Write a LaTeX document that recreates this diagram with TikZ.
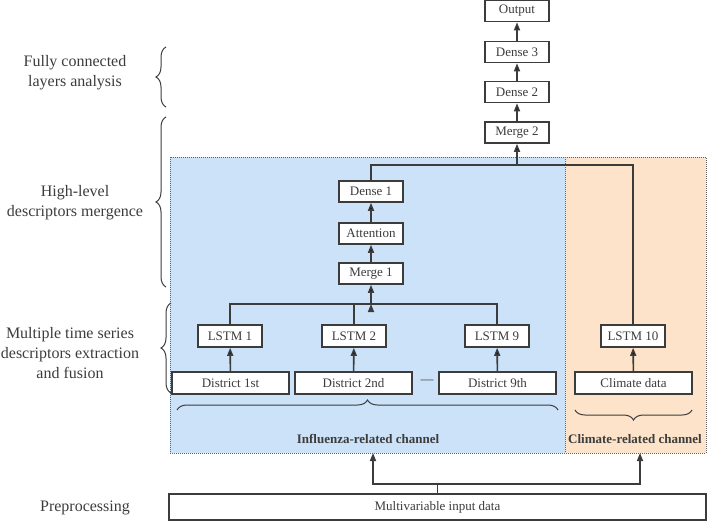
\documentclass[tikz,border=0pt]{standalone}
\usepackage{fontspec}
\setmainfont{Liberation Serif}
\newfontfamily\timesfont{Liberation Serif}
\usetikzlibrary{arrows.meta}
\usetikzlibrary{decorations.pathreplacing}
\definecolor{chanblue}{HTML}{CCE2F8}
\definecolor{chanorange}{HTML}{FDE3C9}
\definecolor{ink}{HTML}{3C3C3C}

\begin{document}
\begin{tikzpicture}[x=1pt,y=-1pt,
    layer/.style={draw=ink,line width=1.6pt,fill=white,text=ink,inner sep=0pt,
      minimum width=64pt,minimum height=21pt,font=\timesfont\fontsize{13}{15}\selectfont},
    wide/.style={layer,minimum width=117pt},
    wire/.style={draw=ink,line width=1.6pt},
    arr/.style={wire,-{Triangle[length=8pt,width=6pt]}},
    region/.style={draw=ink!80,line width=0.9pt,dash pattern=on 1pt off 1pt},
    stage/.style={align=center,text=ink,font=\timesfont\fontsize{16}{20}\selectfont},
    chan/.style={text=ink,font=\timesfont\bfseries\fontsize{13}{15}\selectfont},
    brace/.style={draw=ink,line width=1pt,decorate,decoration={brace,amplitude=10pt}}]
  \useasboundingbox (0,0) rectangle (707,522);

  % channel regions
  \fill[chanblue] (170,157) rectangle (565,453);
  \fill[chanorange] (565,157) rectangle (706,453);
  \draw[region] (170,157) rectangle (706,453);
  \draw[region] (565,157) -- (565,453);

  % fully connected part
  \node[layer] (out) at (517,11) {Output};
  \node[layer] (d3) at (517,52) {Dense 3};
  \node[layer] (d2) at (517,92) {Dense 2};
  \node[layer] (m2) at (517,132.5) {Merge 2};

  % influenza channel
  \node[layer] (d1) at (371,191.5) {Dense 1};
  \node[layer] (att) at (371,233.5) {Attention};
  \node[layer] (m1) at (371,273.5) {Merge 1};
  \node[layer,minimum height=22pt] (l1) at (230,336) {LSTM 1};
  \node[layer,minimum height=22pt] (l2) at (354,336) {LSTM 2};
  \node[layer,minimum height=22pt] (l9) at (497,336) {LSTM 9};
  \node[wide,minimum height=22pt] (dist1) at (230.5,383) {District 1st};
  \node[wide,minimum height=22pt] (dist2) at (353.5,383) {District 2nd};
  \node[wide,minimum height=22pt] (dist9) at (497.5,383) {District 9th};
  \node[text=ink,font=\timesfont\fontsize{13}{15}\selectfont] (dots) at (427,382) {—};

  % climate channel
  \node[layer,minimum height=22pt] (l10) at (633,336) {LSTM 10};
  \node[wide,minimum height=22pt] (clim) at (633.5,383) {Climate data};

  % input
  \node[layer,minimum width=537pt,minimum height=26pt] (in) at (437.5,507) {Multivariable input data};

  \node[chan] (flulab) at (368,439) {Influenza-related channel};
  \node[chan] (climlab) at (635,439) {Climate-related channel};

  \coordinate (jn) at (517,165);
  \coordinate (bus) at (371,304);
  \coordinate (split) at (437.5,484);
  \coordinate (fluin) at (373,453);
  \coordinate (climin) at (640,453);

  \path[arr]
    (out |- d3.north) edge (out)
    (d2) edge (d3)
    (m2) edge (d2)
    (jn) edge (m2)
    (att) edge (d1)
    (m1) edge (att)
    (bus) edge (m1)
    (dist1) edge (l1)
    (dist2) edge (l2)
    (dist9) edge (l9)
    (clim) edge (l10);
  \draw[wire] (d1.north) -- (d1.north |- jn) -- (jn -| l10.north) -- (l10.north);
  \draw[wire] (l1.north) -- (l1.north |- bus) -- (l9.north |- bus) -- (l9.north);
  \draw[wire] (l2.north) -- (l2.north |- bus);
  \draw[wire] (in.north) -- (split);
  \draw[arr] (split) -| (fluin);
  \draw[arr] (split) -| (climin);

  % braces
  \draw[brace] (177,410) -- (558,410);
  \draw[brace] (692,410) -- (575,410);
  \draw[brace] (166,107) -- (166,47);
  \draw[brace] (166,287) -- (166,117);
  \draw[brace] (171,393) -- (171,303);

  % stages
  \node[stage] (fc) at (75,73) {Fully connected\\layers analysis};
  \node[stage] (hl) at (75,203) {High-level\\descriptors mergence};
  \node[stage] (mts) at (70,353) {Multiple time series\\descriptors extraction\\and fusion};
  \node[stage] (pre) at (85,508) {Preprocessing};
\end{tikzpicture}
\end{document}
